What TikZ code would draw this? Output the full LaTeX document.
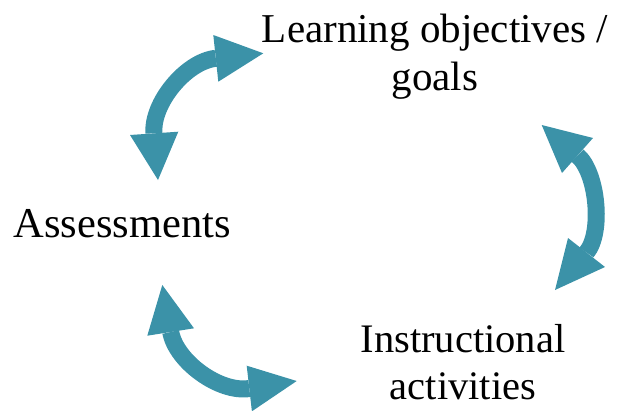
\documentclass[tikz,border=0pt]{standalone}
\usepackage{fontspec}
\setmainfont{Liberation Serif}
\definecolor{arrowteal}{RGB}{59,146,168}
\begin{document}
\begin{tikzpicture}[x=1pt,y=-1pt,
  shaft/.style={line width=17pt, draw=arrowteal},
  head/.style={fill=arrowteal},
  lbl/.style={font=\fontsize{41}{48}\selectfont, align=center, inner sep=0pt}]
\useasboundingbox (0,0) rectangle (619,410);

% labels (base anchor = baseline of the last line)
\node[lbl, anchor=base] (goals) at (435,90) {Learning objectives /\\ goals};
\node[lbl, anchor=base, font=\fontsize{42.5}{48}\selectfont] (assess) at (122,237) {Assessments};
\node[lbl, anchor=base, font=\fontsize{40.5}{47}\selectfont] (instr) at (463,399) {Instructional\\ activities};

% arrow 1: Assessments <-> goals
\coordinate (a1b1) at (154,133.3);
\coordinate (a1b2) at (215.8,58.3);
\draw[shaft] (a1b1) .. controls (151.5,103.4) and (186,61.4) .. (a1b2);
\fill[head] (158,180) -- (130,135) -- (178.3,131.7) -- cycle;
\fill[head] (263.3,53.3) -- (213.3,35) -- (218.3,81.7) -- cycle;

% arrow 2: goals <-> Instructional activities
\coordinate (a2b1) at (577.5,155.5);
\coordinate (a2b2) at (586.5,252.5);
\draw[shaft] (a2b1) .. controls (597.3,172.4) and (603.2,232.6) .. (a2b2);
\fill[head] (541.7,125) -- (593,138) -- (562,173) -- cycle;
\fill[head] (555,290) -- (568,238) -- (605,267) -- cycle;

% arrow 3: Assessments <-> Instructional activities
\coordinate (a3b1) at (170.7,332);
\coordinate (a3b2) at (249.3,388.5);
\draw[shaft] (a3b1) .. controls (176,361.5) and (219.7,393.2) .. (a3b2);
\fill[head] (162.3,285) -- (147.3,335.7) -- (194,328.3) -- cycle;
\fill[head] (296.7,381) -- (246.7,365.7) -- (251.9,411.3) -- cycle;
\end{tikzpicture}
\end{document}
